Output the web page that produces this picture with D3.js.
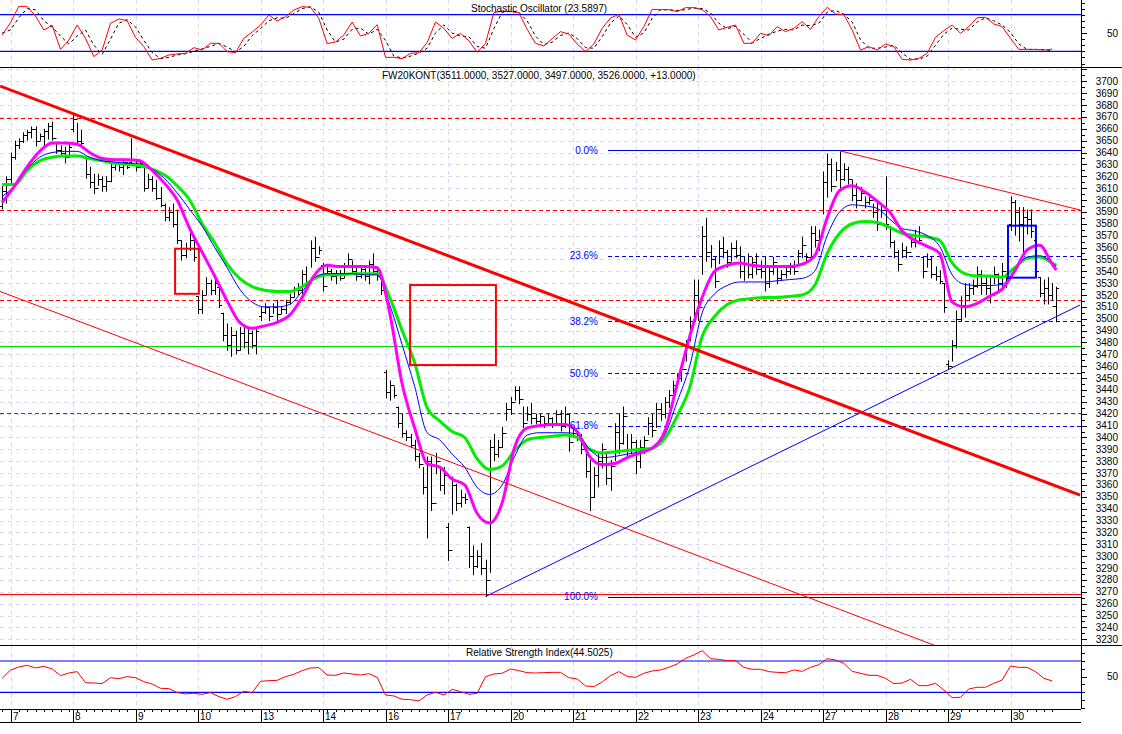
<!DOCTYPE html>
<html><head><meta charset="utf-8">
<script src="https://cdn.jsdelivr.net/npm/d3@7/dist/d3.min.js"></script>
<style>
body{margin:0;background:#fff}
svg{display:block}
text{font-family:"Liberation Sans",Arial,sans-serif;font-size:10px}
</style>
</head><body>
<svg id="c" width="1122" height="734"></svg>
<script>
// ---------------- DATA ----------------
const dayLabels = ["7","8","9","10","13","14","16","17","20","21","22","23","24","27","28","29","30"];
const dayStart  = [2,17,32,47,62,77,92,107,122,137,152,167,182,197,212,227,242];

const highs = [3612,3620,3640,3650,3652,3657,3659,3662,3662,3656,3660,3665,3666,3648,3646,3645,3648,3673,3665,3659,
3636,3628,3622,3622,3620,3620,3631,3632,3631,3634,3632,3652,3634,3634,3628,3622,3620,3617,3611,3597,
3594,3597,3592,3566,3564,3572,3570,3519,3524,3535,3533,3535,3527,3505,3496,3493,3490,3493,3495,3493,
3490,3493,3510,3513,3510,3513,3516,3510,3516,3521,3527,3530,3541,3544,3566,3569,3561,3547,3544,3542,
3541,3541,3547,3555,3549,3544,3544,3544,3549,3555,3544,3538,3457,3448,3443,3426,3420,3406,3403,3398,
3387,3375,3384,3384,3387,3375,3375,3328,3367,3361,3356,3353,3325,3309,3305,3311,3297,3398,3403,3398,
3409,3429,3434,3443,3443,3426,3426,3429,3420,3420,3417,3420,3417,3423,3423,3426,3420,3409,3406,3403,
3392,3381,3375,3387,3395,3387,3381,3412,3420,3426,3403,3403,3398,3398,3401,3417,3420,3429,3429,3434,
3440,3448,3454,3462,3482,3502,3533,3533,3578,3585,3562,3552,3566,3569,3558,3564,3566,3561,3552,3555,
3552,3555,3549,3552,3544,3552,3544,3541,3544,3547,3549,3558,3569,3555,3578,3578,3575,3624,3639,3635,
3632,3641,3631,3628,3617,3614,3611,3603,3603,3597,3600,3597,3620,3578,3566,3558,3564,3561,3569,3575,
3578,3552,3555,3552,3544,3541,3530,3465,3482,3507,3519,3530,3530,3533,3544,3541,3535,3535,3544,3538,
3547,3538,3603,3600,3594,3594,3592,3592,3566,3535,3533,3535,3530,3527];
const lows = [3592,3597,3612,3634,3643,3648,3650,3652,3645,3650,3645,3651,3650,3639,3637,3631,3636,3657,3646,3646,
3618,3610,3605,3612,3607,3607,3615,3625,3624,3621,3626,3630,3624,3627,3607,3610,3607,3600,3594,3582,
3582,3577,3563,3549,3551,3557,3548,3504,3504,3520,3520,3520,3509,3481,3473,3468,3470,3473,3475,3470,
3475,3470,3498,3504,3498,3504,3498,3504,3504,3512,3518,3520,3520,3526,3543,3548,3554,3523,3537,3532,
3529,3532,3534,3543,3537,3532,3534,3532,3529,3537,3532,3520,3433,3431,3433,3408,3400,3397,3391,3380,
3374,3352,3315,3338,3369,3355,3352,3296,3335,3338,3341,3344,3290,3284,3290,3284,3266,3286,3380,3383,
3391,3414,3419,3431,3428,3408,3414,3411,3411,3411,3408,3411,3408,3411,3405,3408,3388,3400,3397,3386,
3366,3338,3349,3358,3374,3360,3355,3380,3386,3394,3383,3386,3369,3374,3386,3402,3400,3408,3414,3416,
3425,3436,3442,3447,3464,3481,3501,3498,3537,3548,3543,3526,3546,3551,3543,3548,3551,3534,3532,3534,
3534,3537,3534,3523,3526,3537,3529,3532,3534,3537,3537,3546,3551,3548,3551,3560,3557,3588,3602,3607,
3616,3610,3616,3613,3599,3593,3599,3593,3596,3585,3574,3585,3575,3560,3551,3540,3551,3551,3560,3560,
3563,3534,3543,3534,3532,3529,3505,3457,3464,3475,3498,3501,3515,3520,3526,3520,3520,3513,3529,3523,
3526,3526,3574,3570,3565,3554,3571,3568,3535,3518,3512,3512,3515,3497];
const opens = [3595,3608,3618,3636,3646,3650,3655,3657,3660,3650,3654,3658,3662,3652,3642,3640,3636,3660,3668,3650,
3636,3622,3615,3610,3618,3612,3616,3628,3630,3628,3632,3632,3634,3628,3628,3610,3618,3610,3602,3596,
3586,3590,3580,3566,3554,3560,3566,3519,3508,3520,3530,3524,3527,3505,3486,3478,3486,3474,3488,3480,
3488,3478,3502,3506,3510,3502,3510,3504,3508,3514,3518,3525,3524,3538,3530,3560,3552,3545,3528,3540,
3536,3538,3534,3545,3550,3540,3536,3542,3536,3546,3540,3536,3455,3438,3444,3426,3412,3404,3400,3394,
3384,3378,3358,3380,3345,3380,3360,3325,3305,3360,3345,3350,3325,3300,3292,3300,3290,3280,3392,3386,
3392,3404,3424,3430,3440,3432,3412,3420,3416,3414,3418,3412,3416,3412,3420,3410,3420,3396,3404,3400,
3390,3372,3350,3368,3380,3390,3366,3376,3405,3395,3418,3390,3396,3380,3392,3398,3412,3406,3424,3420,
3430,3436,3444,3450,3458,3476,3498,3520,3510,3570,3556,3550,3532,3560,3556,3548,3560,3554,3540,3546,
3538,3548,3542,3540,3530,3540,3548,3534,3538,3540,3544,3540,3555,3562,3552,3572,3566,3570,3615,3630,
3612,3625,3618,3626,3618,3604,3600,3606,3598,3600,3590,3580,3592,3578,3565,3556,3546,3558,3556,3565,
3570,3552,3540,3550,3538,3536,3530,3462,3460,3478,3500,3512,3520,3526,3528,3538,3530,3526,3520,3538,
3530,3540,3580,3598,3590,3580,3586,3584,3566,3535,3522,3526,3520,3511];
const closes = [3608,3618,3636,3646,3650,3655,3657,3660,3650,3654,3658,3662,3652,3642,3640,3636,3645,3668,3650,3648,
3622,3615,3610,3618,3612,3616,3628,3630,3628,3632,3628,3634,3628,3630,3610,3618,3610,3602,3596,3586,
3590,3580,3566,3554,3560,3566,3552,3508,3520,3530,3524,3530,3512,3486,3478,3486,3474,3488,3480,3488,
3478,3490,3506,3510,3502,3510,3504,3508,3514,3518,3525,3524,3538,3530,3560,3552,3558,3528,3540,3536,
3538,3534,3545,3550,3540,3536,3542,3536,3546,3540,3536,3524,3438,3444,3436,3412,3404,3400,3394,3384,
3378,3358,3380,3345,3380,3360,3368,3305,3360,3345,3350,3348,3300,3292,3300,3290,3280,3392,3386,3392,
3404,3424,3430,3440,3432,3412,3420,3416,3414,3418,3412,3416,3412,3420,3410,3420,3396,3404,3400,3390,
3372,3350,3368,3380,3390,3366,3376,3405,3395,3418,3390,3396,3380,3392,3398,3412,3406,3424,3420,3430,
3436,3444,3450,3458,3476,3498,3520,3510,3570,3556,3550,3532,3560,3556,3548,3560,3554,3540,3546,3538,
3548,3542,3540,3530,3540,3548,3534,3538,3540,3544,3540,3555,3562,3552,3572,3566,3570,3615,3630,3612,
3625,3618,3626,3618,3604,3600,3606,3598,3600,3590,3580,3592,3580,3565,3556,3546,3558,3556,3565,3570,
3566,3540,3550,3538,3536,3532,3510,3460,3478,3500,3512,3520,3526,3528,3538,3530,3526,3520,3538,3530,
3540,3534,3598,3590,3580,3586,3584,3574,3540,3522,3526,3520,3511,3526];

// moving averages, one value every 3 bars (bar 0,3,...,252) plus the last bar
const maFast = [3598,3612,3628,3641,3648,3648,3647,3640,3635,3634,3634,3633,3625,3614,3600,3576,3556,3536,3515,3497,
3492,3494,3497,3503,3518,3537,3545,3544,3544,3544,3543,3505,3445,3408,3378,3375,3365,3360,3336,3328,
3345,3392,3408,3410,3411,3411,3405,3384,3377,3378,3383,3387,3391,3405,3445,3485,3518,3540,3545,3547,
3545,3544,3544,3544,3546,3553,3585,3608,3612,3607,3599,3590,3574,3566,3561,3555,3514,3510,3513,3519,
3525,3540,3558,3562,3546,3541];
const maMid = [3603,3612,3626,3636,3640,3641,3641,3636,3633,3632,3631,3631,3626,3618,3606,3592,3578,3560,3543,3525,
3514,3510,3510,3512,3523,3535,3538,3538,3538,3537,3537,3512,3478,3443,3404,3398,3386,3375,3358,3352,
3360,3384,3402,3404,3404,3404,3403,3390,3383,3384,3386,3388,3391,3402,3430,3460,3505,3521,3528,3531,
3531,3531,3532,3533,3534,3540,3570,3590,3596,3595,3593,3584,3576,3574,3570,3561,3537,3529,3528,3528,
3529,3541,3552,3553,3547,3544];
const maSlow = [3613,3613,3625,3633,3636,3637,3637,3635,3633,3631,3630,3629,3626,3621,3612,3600,3580,3564,3546,3534,
3527,3524,3523,3523,3527,3534,3537,3537,3538,3538,3538,3518,3490,3463,3425,3414,3405,3400,3382,3373,
3376,3389,3398,3400,3401,3402,3400,3390,3387,3388,3389,3390,3391,3399,3418,3442,3485,3502,3512,3516,
3517,3518,3518,3519,3520,3528,3555,3572,3580,3582,3581,3577,3572,3570,3569,3566,3547,3538,3536,3536,
3535,3543,3551,3552,3547,3545];

// oscillators, one value every 2 bars (bar 0,2,...,252)
const stochK = [46.7,66.9,93.7,93.7,77.9,54.9,62.6,23.2,38.5,63.1,41.3,11.2,22.1,65.9,73,70.2,42.9,27.6,5.7,8.5,
13.9,15.6,16.7,26,22.1,33.1,33.1,19.4,17.8,41.3,51.6,63.1,79.5,69.7,76.8,87.7,93.2,92.1,74,32.5,
35.3,46.7,68,45.1,49.5,63.7,10.1,10.1,7.9,16.7,17.8,34.2,68,57.7,41.3,49.5,37.4,18.3,33.1,83.3,
86.1,85,83.3,56,33.1,28.7,40.7,52.2,48.4,32,19.4,32,57.7,74.6,80.6,46.7,38.5,60.4,88.8,88.3,
88.3,85,91.5,91.5,88.3,76.8,54.9,59.3,63.1,33.1,33.1,49.5,45.6,60.4,52.2,57.7,68.6,56,76.8,92.1,
81.1,80.1,54.9,22.1,27.6,22.1,32,27.6,6.8,5.7,8.5,16.7,42.9,53.8,63.1,49.5,60.4,75.1,75.7,64.8,
60.4,41.3,23.2,23.2,23.2,22.1,23.6];
const stochD = [50,55,75,90,88,70,60,45,32,45,55,30,15,40,66,72,60,38,18,8,
10,14,16,20,24,28,33,27,19,28,46,57,70,75,74,82,90,93,84,55,
35,40,56,58,48,56,38,12,9,12,17,25,50,63,50,45,44,28,25,57,
84,86,84,70,45,31,35,46,50,41,26,25,44,66,78,64,43,50,74,88,
88,87,88,91,90,83,66,57,61,48,34,41,48,53,56,55,63,62,66,84,
87,81,68,39,25,25,27,30,17,7,7,12,30,48,58,56,55,68,75,70,
63,51,32,23,23,23,21];
const rsi = [47.9,58.5,62.3,64.5,61.1,63.2,59.8,51.3,54.7,56.4,42.3,41.9,41.1,48.7,47.4,50,48.7,43.6,40.6,35.1,
34.7,29.6,27.9,28.7,27.4,29.6,24.5,21.1,24.5,31.3,29.6,44,44.9,45.3,50,53,57.7,61.1,61.5,52.1,
51.7,54.7,53.4,52.1,53.8,49.1,26.6,25.3,21.1,20.6,18.9,26.6,30,26.6,33.8,30.9,27.4,28.7,50,53.4,
54.3,59.8,57.7,55.1,54.7,55.1,55.5,55.5,48.7,47,38.1,37.2,43.2,51.3,56.4,50.4,49.1,54.3,57.2,58.5,
61.9,66.2,73.4,77.7,83.2,73,72.1,70.4,70.4,61.9,59.4,59.4,56.4,55.5,55.1,58.5,56.8,61.9,65.3,73,
71.3,67,56.8,54.3,51.7,51.7,47.9,41.1,41.9,46.6,38.5,38.5,41.5,33,23.2,23.6,34.3,36.4,36.4,41.5,
45.7,63.6,61.9,61.9,56.4,47.9,44.5];

// levels and drawn objects, in bar index / price units
const redDashedLevels = [3669,3592,3516,3421];
const redSolidLevels = [3268];
const greenLevels = [3477];
const fibLevels = [3642,3553,3498,3454,3410,3266];
const fibLabels = ["0.0%","23.6%","38.2%","50.0%","61.8%","100.0%"];
const fibFrom = 145.4, fibLabelAt = 143;
const trendThick = [[-0.5,3696],[258.7,3351.5]];
const trendLow   = [[-0.5,3523],[258.7,3178.5]];
const trendTop   = [[201,3641.5],[258.7,3591.6]];
const trendUp    = [[116,3266],[258.7,3511.6]];
const redBoxes  = [[41.5,47.2,3559,3521],[97.9,118.5,3528.4,3461]];
const blueBoxes = [[241.4,248.1,3578.4,3534.6]];
const stochLevels = [80,20];
const rsiLevels = [70,30];
const titleMain = "FW20KONT(3511.0000, 3527.0000, 3497.0000, 3526.0000, +13.0000)";
const titleStoch = "Stochastic Oscillator (23.5897)";
const titleRsi = "Relative Strength Index(44.5025)";

// ---------------- LAYOUT ----------------
const svg = d3.select("#c");
const AX = 1081;             // right axis line
const DX = 62.5/15;
const x = d3.scaleLinear().domain([0,253]).range([2.17, 2.17+253*DX]);
const yS = d3.scaleLinear().domain([0,100]).range([63.5,2.5]);
const yP = d3.scaleLinear().domain([3230,3700]).range([639.3,81.3]);
const yR = d3.scaleLinear().domain([30,70]).range([692.3,661]);
const panels = {top:[0,67], main:[67,645], rsi:[645,709]};

const defs = svg.append("defs");
Object.entries(panels).forEach(([k,[a,b]])=>{
  defs.append("clipPath").attr("id","clip-"+k).append("rect")
    .attr("x",0).attr("y",a).attr("width",AX).attr("height",b-a);
});
svg.append("rect").attr("width",1122).attr("height",734).attr("fill","#fff");

const gridCol = "#d8d8f2";
// vertical day grid
Object.values(panels).forEach(([a,b])=>{
  svg.append("g").selectAll("line").data(dayStart).join("line")
    .attr("x1",d=>Math.round(x(d))+0.5).attr("x2",d=>Math.round(x(d))+0.5)
    .attr("y1",a).attr("y2",b).attr("stroke",gridCol).attr("stroke-dasharray","4,4");
});
// horizontal price grid
const priceGrid = d3.range(3230,3711,10);
svg.append("g").selectAll("line").data(priceGrid).join("line")
  .attr("x1",0).attr("x2",AX).attr("y1",d=>Math.round(yP(d))+0.5).attr("y2",d=>Math.round(yP(d))+0.5)
  .attr("stroke",gridCol).attr("stroke-dasharray","4,4");

// ---------------- TOP PANEL (stochastic) ----------------
const gTop = svg.append("g").attr("clip-path","url(#clip-top)");
gTop.selectAll("line.lv").data(stochLevels).join("line").attr("class","lv")
  .attr("x1",0).attr("x2",AX).attr("y1",d=>yS(d)).attr("y2",d=>yS(d))
  .attr("stroke","#0000ff").attr("stroke-width",1.2);
const oscLine = (ys)=>d3.line().x((d,k)=>x(k*2)).y(d=>ys(d));
gTop.append("path").datum(stochD).attr("d",oscLine(yS)).attr("fill","none")
  .attr("stroke","#000").attr("stroke-dasharray","3,3");
gTop.append("path").datum(stochK).attr("d",oscLine(yS)).attr("fill","none")
  .attr("stroke","#ff0000").attr("stroke-width",1);
svg.append("text").attr("x",471).attr("y",12).text(titleStoch);

// ---------------- MAIN PANEL ----------------
const gM = svg.append("g").attr("clip-path","url(#clip-main)");
gM.selectAll("line.rd").data(redDashedLevels).join("line").attr("class","rd")
  .attr("x1",0).attr("x2",AX).attr("y1",d=>Math.round(yP(d))+0.5).attr("y2",d=>Math.round(yP(d))+0.5)
  .attr("stroke","#ff0000").attr("stroke-dasharray","4,3");
gM.selectAll("line.rs").data(redSolidLevels).join("line").attr("class","rs")
  .attr("x1",0).attr("x2",AX).attr("y1",d=>Math.round(yP(d))+0.5).attr("y2",d=>Math.round(yP(d))+0.5)
  .attr("stroke","#ff0000");
gM.selectAll("line.gl").data(greenLevels).join("line").attr("class","gl")
  .attr("x1",0).attr("x2",AX).attr("y1",d=>Math.round(yP(d))+0.5).attr("y2",d=>Math.round(yP(d))+0.5)
  .attr("stroke","#00dd00");
// fib lines
gM.selectAll("line.fib").data(fibLevels).join("line").attr("class","fib")
  .attr("x1",x(fibFrom)).attr("x2",AX).attr("y1",d=>Math.round(yP(d))+0.5).attr("y2",d=>Math.round(yP(d))+0.5)
  .attr("stroke","#0000ee").attr("stroke-dasharray",(d,k)=>(k===0||k===fibLevels.length-1)?null:"4,3");

// bars
const bars = gM.append("g").attr("stroke","#000").attr("stroke-width",1);
highs.forEach((h,i)=>{
  const xx = Math.round(x(i))+0.5;
  bars.append("line").attr("x1",xx).attr("x2",xx).attr("y1",yP(h)).attr("y2",yP(lows[i]));
  bars.append("line").attr("x1",xx-2.5).attr("x2",xx).attr("y1",Math.round(yP(opens[i]))+0.5).attr("y2",Math.round(yP(opens[i]))+0.5);
  bars.append("line").attr("x1",xx).attr("x2",xx+2.5).attr("y1",Math.round(yP(closes[i]))+0.5).attr("y2",Math.round(yP(closes[i]))+0.5);
});

// moving averages
const maIdx = d3.range(0,253,3).concat([253]);
const maLine = d3.line().x((d,k)=>x(maIdx[k])).y(d=>yP(d)).curve(d3.curveMonotoneX);
gM.append("path").datum(maSlow).attr("d",maLine).attr("fill","none").attr("stroke","#00ee00").attr("stroke-width",3);
gM.append("path").datum(maMid).attr("d",maLine).attr("fill","none").attr("stroke","#0000ff").attr("stroke-width",1);
gM.append("path").datum(maFast).attr("d",maLine).attr("fill","none").attr("stroke","#ff00ff").attr("stroke-width",3);

// trend lines
const tl = (pts,col,w)=>gM.append("line")
  .attr("x1",x(pts[0][0])).attr("y1",yP(pts[0][1])).attr("x2",x(pts[1][0])).attr("y2",yP(pts[1][1]))
  .attr("stroke",col).attr("stroke-width",w);
tl(trendLow,"#ff0000",1);
tl(trendTop,"#ff0000",1);
tl(trendUp,"#0000ff",1);
tl(trendThick,"#ff0000",3);

// boxes
const box = (b,col)=>gM.append("rect")
  .attr("x",x(b[0])).attr("y",yP(b[2])).attr("width",x(b[1])-x(b[0])).attr("height",yP(b[3])-yP(b[2]))
  .attr("fill","none").attr("stroke",col).attr("stroke-width",2);
redBoxes.forEach(b=>box(b,"#ff0000"));
blueBoxes.forEach(b=>box(b,"#0000ff"));

// fib labels
svg.append("g").selectAll("text").data(fibLevels).join("text")
  .attr("x",x(fibLabelAt)).attr("y",d=>yP(d)).attr("dy","0.35em").attr("text-anchor","end")
  .attr("fill","#0000ff").text((d,k)=>fibLabels[k]);
svg.append("text").attr("x",382).attr("y",79).text(titleMain);

// ---------------- RSI PANEL ----------------
const gR = svg.append("g").attr("clip-path","url(#clip-rsi)");
gR.selectAll("line").data(rsiLevels).join("line")
  .attr("x1",0).attr("x2",AX).attr("y1",d=>yR(d)).attr("y2",d=>yR(d))
  .attr("stroke","#0000ff").attr("stroke-width",1.2);
gR.append("path").datum(rsi).attr("d",oscLine(yR)).attr("fill","none")
  .attr("stroke","#ff0000").attr("stroke-width",1);
svg.append("text").attr("x",466).attr("y",656).text(titleRsi);

// ---------------- FRAMES & AXES ----------------
const frame = svg.append("g").attr("stroke","#000").attr("shape-rendering","crispEdges");
frame.append("line").attr("x1",0).attr("x2",1122).attr("y1",67).attr("y2",67);
frame.append("line").attr("x1",0).attr("x2",1122).attr("y1",645).attr("y2",645);
frame.append("line").attr("x1",0).attr("x2",AX).attr("y1",709).attr("y2",709);
frame.append("line").attr("x1",0).attr("x2",AX).attr("y1",722).attr("y2",722);
frame.append("line").attr("x1",AX).attr("x2",AX).attr("y1",0).attr("y2",709);

// price axis
const pAxis = svg.append("g").attr("stroke","#000").attr("shape-rendering","crispEdges");
d3.range(3230,3711,5).forEach(v=>{
  const yy = Math.round(yP(v))+0.5;
  pAxis.append("line").attr("x1",AX).attr("x2",AX+(v%10===0?6:4)).attr("y1",yy).attr("y2",yy);
});
svg.append("g").selectAll("text").data(d3.range(3230,3701,10)).join("text")
  .attr("x",1118).attr("y",d=>yP(d)).attr("dy","0.35em").attr("text-anchor","end").text(d=>d);

// stochastic axis
d3.range(0,101,10).forEach(v=>{
  const yy = Math.round(yS(v))+0.5;
  pAxis.append("line").attr("x1",AX).attr("x2",AX+(v===50?6:4)).attr("y1",yy).attr("y2",yy);
});
svg.append("text").attr("x",1118).attr("y",yS(50)).attr("dy","0.35em").attr("text-anchor","end").text("50");

// rsi axis
d3.range(10,91,10).forEach(v=>{
  const yy = Math.round(yR(v))+0.5;
  pAxis.append("line").attr("x1",AX).attr("x2",AX+(v===50?6:4)).attr("y1",yy).attr("y2",yy);
});
svg.append("text").attr("x",1118).attr("y",yR(50)).attr("dy","0.35em").attr("text-anchor","end").text("50");

// date axis
const dAxis = svg.append("g").attr("stroke","#000").attr("shape-rendering","crispEdges");
d3.range(0,254,2).forEach(i=>{
  const xx = Math.round(x(i))+0.5;
  dAxis.append("line").attr("x1",xx).attr("x2",xx).attr("y1",709).attr("y2",712);
});
dayStart.forEach(i=>{
  const xx = Math.round(x(i))+0.5;
  dAxis.append("line").attr("x1",xx).attr("x2",xx).attr("y1",709).attr("y2",722);
});
svg.append("g").selectAll("text").data(dayStart).join("text")
  .attr("x",d=>Math.round(x(d))+2).attr("y",720).text((d,k)=>dayLabels[k]);
</script>
</body></html>
